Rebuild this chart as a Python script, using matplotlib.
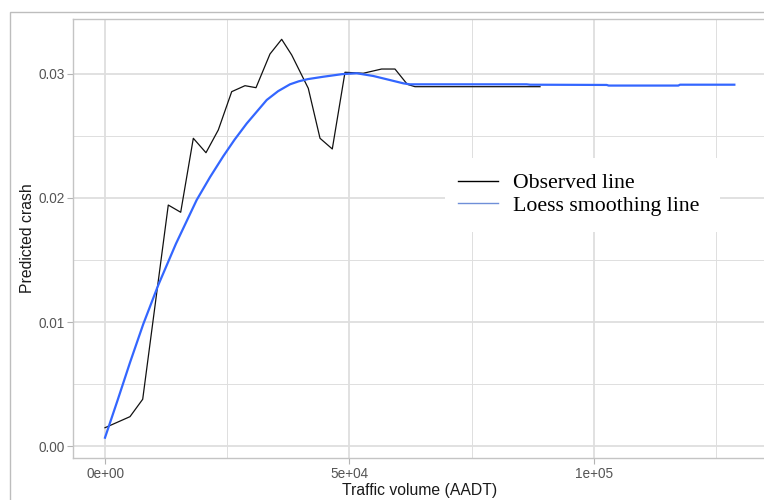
import matplotlib
matplotlib.use("Agg")
import matplotlib.pyplot as plt
from matplotlib.patches import Rectangle
from matplotlib.lines import Line2D

# Observed predicted crash by traffic volume
obs_aadt = [0, 5110, 7710, 12940, 15480, 18060, 20650, 23170, 25910, 28630,
            30880, 33740, 36130, 38180, 41570, 43970, 46480, 49080, 52820,
            56560, 59300, 61820, 63390, 88960]
obs_crash = [0.00151, 0.00240, 0.00380, 0.01942, 0.01884, 0.02479, 0.02363,
             0.02546, 0.02854, 0.02902, 0.02886, 0.03157, 0.03275, 0.03149,
             0.02881, 0.02479, 0.02393, 0.03010, 0.03002, 0.03036, 0.03036,
             0.02913, 0.02894, 0.02894]

# Loess smoothed curve
fit_aadt = [0, 2600, 5110, 7830, 10900, 14500, 18750, 21500, 24190, 26500,
            28980, 33070, 35400, 37830, 39600, 41500, 44640, 48500, 51470,
            54870, 58000, 61000, 62370, 86240, 86900, 102600, 103000, 117240,
            117600, 128700]
fit_crash = [0.00071, 0.00375, 0.00675, 0.00985, 0.01299, 0.01630, 0.01983,
             0.02168, 0.02335, 0.02468, 0.02598, 0.02787, 0.02858, 0.02913,
             0.02937, 0.02955, 0.02974, 0.02995, 0.03002, 0.02980, 0.02950,
             0.02921, 0.02913, 0.02913, 0.02910, 0.02908, 0.02903, 0.02903,
             0.02910, 0.02910]

x_major = [0, 50000, 100000]
x_major_labels = ["0e+00", "5e+04", "1e+05"]
x_minor = [25000, 75000, 125000]
y_major = [0.00, 0.01, 0.02, 0.03]
y_major_labels = ["0.00", "0.01", "0.02", "0.03"]
y_minor = [0.005, 0.015, 0.025]

series_labels = ["Observed line", "Loess smoothing line"]

W, H = 764, 500
fig = plt.figure(figsize=(W / 100, H / 100), dpi=100)
fig.patch.set_facecolor("white")

# outer frame around the plot area
fig.add_artist(Rectangle((9.5 / W, -0.2), 1.5, 1 - 11.5 / H + 0.2,
                         transform=fig.transFigure, fill=False,
                         edgecolor="#BDBDBD", linewidth=1.0))

ax = fig.add_axes([73 / W, (H - 458) / H, (766 - 73) / W, (458 - 19) / H])
ax.set_facecolor("white")

ax.set_xlim(-6544, 135174)
ax.set_ylim(-0.000925, 0.034384)

ax.set_xticks(x_major)
ax.set_xticklabels(x_major_labels)
ax.set_xticks(x_minor, minor=True)
ax.set_yticks(y_major)
ax.set_yticklabels(y_major_labels)
ax.set_yticks(y_minor, minor=True)

grid_col = "#DEDEDE"
ax.grid(True, which="major", color=grid_col, linewidth=1.3)
ax.grid(True, which="minor", color=grid_col, linewidth=0.7)
ax.set_axisbelow(True)

for side, sp in ax.spines.items():
    sp.set_color("#C4C4C4")
    sp.set_linewidth(1.0)

ax.tick_params(which="major", length=4.2, width=0.8, color="#B3B3B3",
               labelsize=9.8, labelcolor="#555555", pad=2)
ax.tick_params(which="minor", length=0)
for lab in ax.get_xticklabels() + ax.get_yticklabels():
    lab.set_fontfamily("Liberation Sans")

ax.plot(obs_aadt, obs_crash, color="#111111", linewidth=0.9, zorder=3)
ax.plot(fit_aadt, fit_crash, color="#3366FF", linewidth=1.6, zorder=4)

ax.set_xlabel("Traffic volume (AADT)", fontsize=11.3, family="Liberation Sans",
              color="#1A1A1A", labelpad=2)
ax.set_ylabel("Predicted crash", fontsize=11.3, family="Liberation Sans",
              color="#1A1A1A", labelpad=2)

# white key background
ax.add_patch(Rectangle((445 / W, (H - 232) / H), (720 - 445) / W, (232 - 158) / H,
                       transform=fig.transFigure, facecolor="white",
                       edgecolor="none", zorder=5))

handles = [Line2D([], [], color="black", linewidth=1.0),
           Line2D([], [], color="#6F8FD8", linewidth=1.0)]
leg = ax.legend(handles, series_labels, loc="upper left",
                bbox_to_anchor=(458 / W, (H - 173) / H),
                bbox_transform=fig.transFigure, frameon=False,
                prop={"family": "Liberation Serif", "size": 15.7},
                handlelength=1.83, handletextpad=0.69, labelspacing=0.1,
                borderpad=0.0, borderaxespad=0.0)
leg.set_zorder(6)

fig.savefig("out.png", dpi=100)
